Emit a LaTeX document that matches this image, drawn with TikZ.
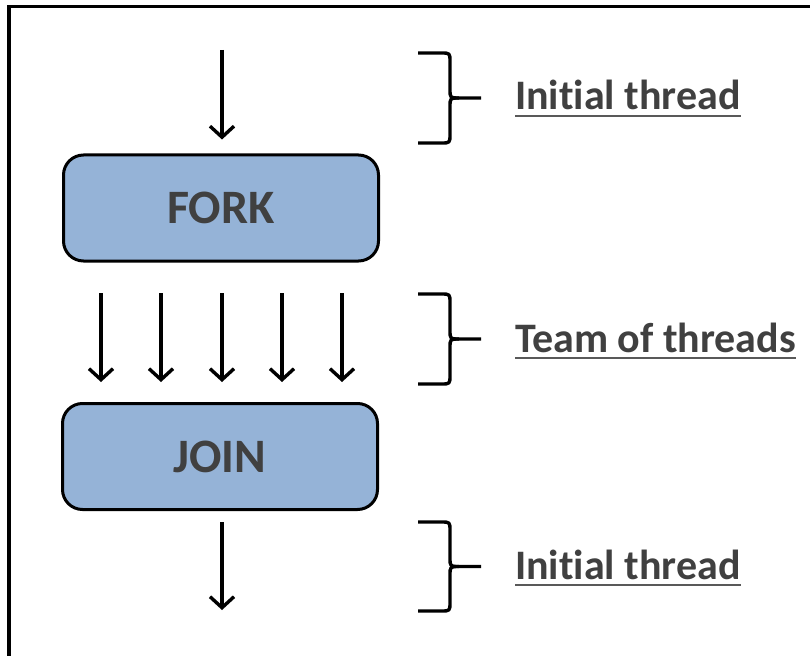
\documentclass[tikz,border=0pt]{standalone}
\usepackage{fontspec}
\setmainfont[Ligatures={NoCommon}]{Carlito}
\usetikzlibrary{arrows.meta}
\definecolor{boxblue}{HTML}{95B3D7}
\definecolor{txtgray}{HTML}{404040}
\begin{document}
\begin{tikzpicture}[x=1pt,y=-1pt,
  arr/.style={line width=3.4pt,-{Straight Barb[length=11pt,width=24pt]}},
  opbox/.style={draw,line width=3pt,rounded corners=20pt,fill=boxblue,
    minimum width=315pt,minimum height=106pt,inner sep=0pt,
    text=txtgray,font=\bfseries\fontsize{48}{50}\selectfont},
  lbl/.style={anchor=base west,inner sep=0pt,text=txtgray,
    font=\bfseries\fontsize{42}{46}\selectfont},
  brc/.style={line width=3.4pt,line join=round},
  uline/.style={line width=2.4pt,draw=black!65}
]
\useasboundingbox (0,0) rectangle (810,655);
% frame
\draw[line width=3.2pt] (9,670) -- (9,6.5) -- (830,6.5);

% boxes
\node[opbox] (fork) at (221,208) {FORK};
\node[opbox] (join) at (220,456.5) {JOIN};

% top arrow
\coordinate (t0) at (222,50);
\draw[arr,shorten >=14pt] (t0) -- (t0 |- fork.north);

% team arrows
\foreach \i/\x in {1/101,2/161,3/222,4/282,5/342}{
  \coordinate (a\i) at (\x,293);
  \coordinate (b\i) at (\x,382);
  \draw[arr] (a\i) -- (b\i);
}

% bottom arrow
\coordinate (e0) at (222,522);
\coordinate (e1) at (222,610);
\draw[arr] (e0) -- (e1);

% braces
\foreach \yt/\yb in {53/143,294/384,522/611}{
  \pgfmathsetmacro\ym{(\yt+\yb)/2}
  \draw[brc] (418,\yt) -- (441,\yt) .. controls (450,\yt) .. (450,\yt+9)
    -- (450,\ym-9) .. controls (450,\ym) .. (459,\ym) -- (481,\ym);
  \draw[brc] (459,\ym) .. controls (450,\ym) .. (450,\ym+9)
    -- (450,\yb-9) .. controls (450,\yb) .. (441,\yb) -- (418,\yb);
}

% labels
\node[lbl] (l1) at (515,110) {Initial thread};
\node[lbl] (l2) at (515,352) {Team of threads};
\node[lbl] (l3) at (515,579) {Initial thread};
\foreach \n in {l1,l2,l3}{
  \draw[uline] ([yshift=-6pt]\n.base west) -- ([yshift=-6pt]\n.base east);
}
\end{tikzpicture}
\end{document}
